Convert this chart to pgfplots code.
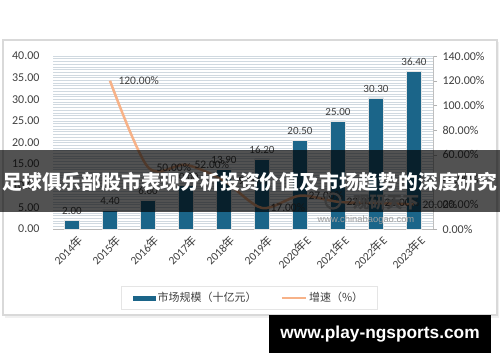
\documentclass[border=0pt]{standalone}
\usepackage{fontspec}
\usepackage{pgfplots}
\pgfplotsset{compat=1.18}
\setmainfont{Carlito}
\newfontfamily\cjk{Noto Sans CJK SC}
\newfontfamily\lib{Liberation Sans}
\definecolor{barblue}{RGB}{27,101,137}
\definecolor{lineor}{RGB}{247,178,136}
\definecolor{gridc}{RGB}{208,217,224}
\definecolor{txt}{RGB}{64,64,64}
\newcommand{\nian}{{\cjk 年}}
\begin{document}
\begin{tikzpicture}[x=1pt,y=1pt]
\useasboundingbox (0,0) rectangle (500,362);
\fill[white] (0,0) rectangle (500,362);
\fill[gray!12] (5,44) rectangle (499,320);
\filldraw[fill=white,draw=gray!30,line width=1.2pt] (3,47) rectangle (497,322);
\begin{axis}[at={(53pt,133pt)}, anchor=south west, scale only axis,
  width=380pt, height=173pt,
  xmin=-0.5, xmax=9.5, ymin=0, ymax=40,
  ybar, bar width=15pt,
  /pgf/number format/assume math mode=true,
  axis x line*=bottom, axis y line*=left,
  x axis line style={gray!55, line width=0.8pt, -},
  y axis line style={draw=none},
  xtick={0,...,9},
  xticklabels={2014\nian,2015\nian,2016\nian,2017\nian,2018\nian,2019\nian,2020\nian E,2021\nian E,2022\nian E,2023\nian E},
  xtick style={draw=none}, ytick style={draw=none}, minor y tick style={draw=none},
  ytick={0,5,...,40}, minor y tick num=7,
  ymajorgrids, yminorgrids,
  major grid style={gridc, line width=0.5pt},
  minor grid style={gridc, line width=0.5pt},
  tick label style={color=txt},
  yticklabel={\pgfmathprintnumber[fixed,fixed zerofill,precision=2]{\tick}},
  yticklabel style={font=\fontsize{12}{14}\selectfont, anchor=east, xshift=-10pt},
  xticklabel style={rotate=45, anchor=north east, font=\fontsize{11.5}{13}\selectfont, inner sep=1pt, xshift=4pt, yshift=-3pt},
  legend style={at={(0.516,-0.399)}, anchor=center, draw=gray!20, fill=white,
    font=\cjk\fontsize{11}{13}\selectfont, text=txt, inner xsep=12pt, inner ysep=4pt},
  legend columns=2,
  legend cell align=left,
  /tikz/every even column/.append style={column sep=22pt},
]
\addplot[fill=barblue, draw=white!80!gray, line width=0.6pt,
  legend image code/.code={\fill[barblue] (0pt,-2.2pt) rectangle (22pt,2.2pt);},
  nodes near coords={\pgfmathprintnumber[fixed,fixed zerofill,precision=2]{\pgfplotspointmeta}},
  every node near coord/.append style={font=\fontsize{11}{12}\selectfont, color=txt, yshift=2pt}]
  coordinates {(0,2.00) (1,4.40) (2,6.60) (3,10.00) (4,13.90) (5,16.20) (6,20.50) (7,25.00) (8,30.30) (9,36.40)};
\addlegendentry{市场规模（十亿元）}
\addlegendimage{legend image code/.code={\draw[lineor,line width=2.5pt] (0pt,0pt) -- (24pt,0pt);}}
\addlegendentry{增速（\%）}
\end{axis}
\begin{axis}[at={(53pt,133pt)}, anchor=south west, scale only axis,
  width=380pt, height=173pt,
  xmin=-0.5, xmax=9.5, ymin=0, ymax=140,
  /pgf/number format/assume math mode=true,
  hide x axis, axis y line*=right,
  y axis line style={gray!50, -},
  ytick={0,20,...,140}, ytick style={gray!60},
  tick align=outside, major tick length=4pt,
  tick label style={color=txt},
  yticklabel={\pgfmathprintnumber[fixed,fixed zerofill,precision=2]{\tick}\%},
  yticklabel style={font=\fontsize{12}{14}\selectfont, anchor=west, xshift=2pt},
]
\addplot[lineor, line width=2.5pt, smooth, tension=0.5, mark=none,
  nodes near coords={\pgfmathprintnumber[fixed,fixed zerofill,precision=2]{\pgfplotspointmeta}\%},
  every node near coord/.append style={font=\fontsize{11.5}{13}\selectfont, color=txt, anchor=west, xshift=4pt}]
  coordinates {(1,120) (2,50) (3,52) (4,39) (5,17) (6,27) (7,22) (8,21) (9,20)};
\end{axis}
% watermark logo
\draw[gray!55, line width=2.2pt] (333,161) circle (7.5);
\node[text=gray!55, font=\cjk\bfseries\fontsize{16.5}{18}\selectfont] at (386,159) {观研天下};
\node[text=gray!75, font=\lib\fontsize{9.4}{11}\selectfont] at (366,142) {www.chinabaogao.com};
% banner
\fill[black, opacity=0.68] (0,150) rectangle (500,212);
\node[text=white, font=\cjk\bfseries\fontsize{19.8}{22}\selectfont, inner sep=0pt] at (250,180) {足球俱乐部股市表现分析投资价值及市场趋势的深度研究};
% bottom watermark
\fill[black] (269,9) rectangle (491,47);
\node[text=white, font=\lib\bfseries\fontsize{17.3}{19}\selectfont, inner sep=0pt] at (380,28) {www.play-ngsports.com};
\end{tikzpicture}
\end{document}
